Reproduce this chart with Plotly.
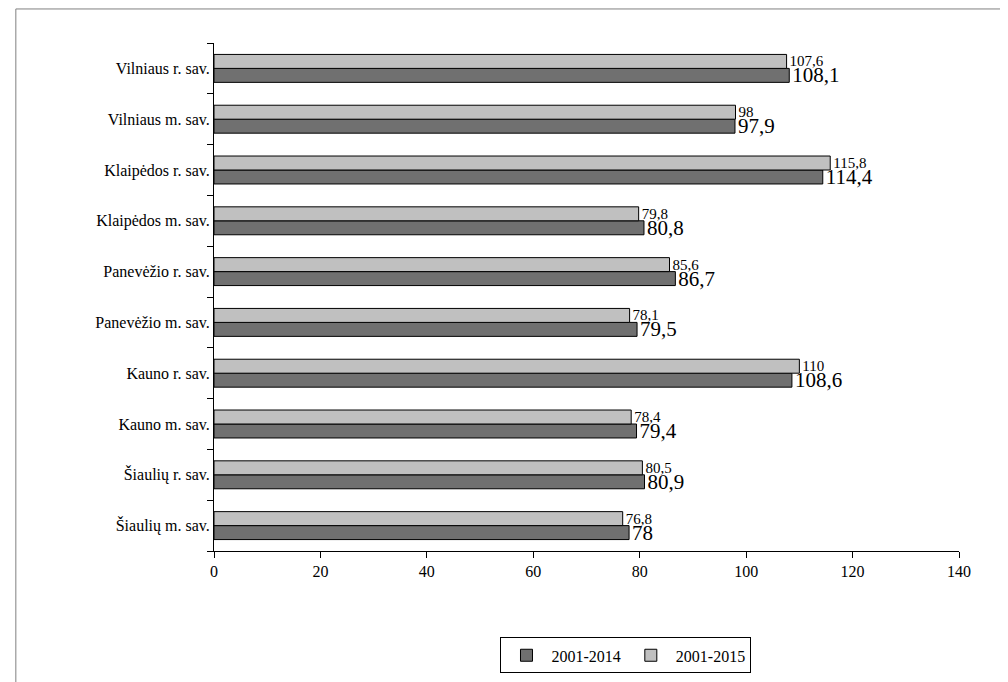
import plotly.graph_objects as go

# Savivaldybės, iš apačios į viršų
categories = ["Šiaulių m. sav.", "Šiaulių r. sav.", "Kauno m. sav.", "Kauno r. sav.",
              "Panevėžio m. sav.", "Panevėžio r. sav.", "Klaipėdos m. sav.",
              "Klaipėdos r. sav.", "Vilniaus m. sav.", "Vilniaus r. sav."]
values_2014 = [78, 80.9, 79.4, 108.6, 79.5, 86.7, 80.8, 114.4, 97.9, 108.1]
values_2015 = [76.8, 80.5, 78.4, 110, 78.1, 85.6, 79.8, 115.8, 98, 107.6]
x_ticks = [0, 20, 40, 60, 80, 100, 120, 140]


def fmt(v):
    return ("%g" % v).replace(".", ",")


FONT = "Liberation Serif"

fig = go.Figure()
fig.add_trace(go.Bar(
    y=categories, x=values_2014, orientation="h", name="2001-2014",
    marker=dict(color="#707070", line=dict(color="black", width=1)),
    text=[fmt(v) for v in values_2014], textposition="outside", cliponaxis=False,
    constraintext="none",
    textfont=dict(size=21, color="black", family=FONT),
))
fig.add_trace(go.Bar(
    y=categories, x=values_2015, orientation="h", name="2001-2015",
    marker=dict(color="#c0c0c0", line=dict(color="black", width=1)),
    text=[fmt(v) for v in values_2015], textposition="outside", cliponaxis=False,
    constraintext="none",
    textfont=dict(size=15, color="black", family=FONT),
))

fig.update_layout(
    width=1008, height=682,
    margin=dict(l=206, r=57, t=35, b=139),
    barmode="group", bargap=0.45, bargroupgap=0,
    paper_bgcolor="white", plot_bgcolor="white",
    font=dict(family=FONT, size=16, color="black"),
    showlegend=True,
    legend=dict(orientation="h", x=0.553, xanchor="center", y=-0.17, yanchor="top",
                bordercolor="black", borderwidth=1, font=dict(size=16),
                traceorder="normal", itemwidth=40),
    xaxis=dict(range=[0, 140], tickvals=x_ticks, showgrid=False, zeroline=False,
               showline=True, linecolor="black", ticks="outside", ticklen=6,
               tickcolor="black", automargin=False),
    yaxis=dict(showgrid=False, showline=True, linecolor="black", ticks="outside",
               ticklen=6, tickcolor="black", tickson="boundaries", automargin=False),
    shapes=[dict(type="rect", xref="paper", yref="paper", x0=-0.266, x1=1.1,
                 y0=-0.3, y1=1.067, line=dict(color="#808080", width=1))],
)

fig.write_html("out.html")
